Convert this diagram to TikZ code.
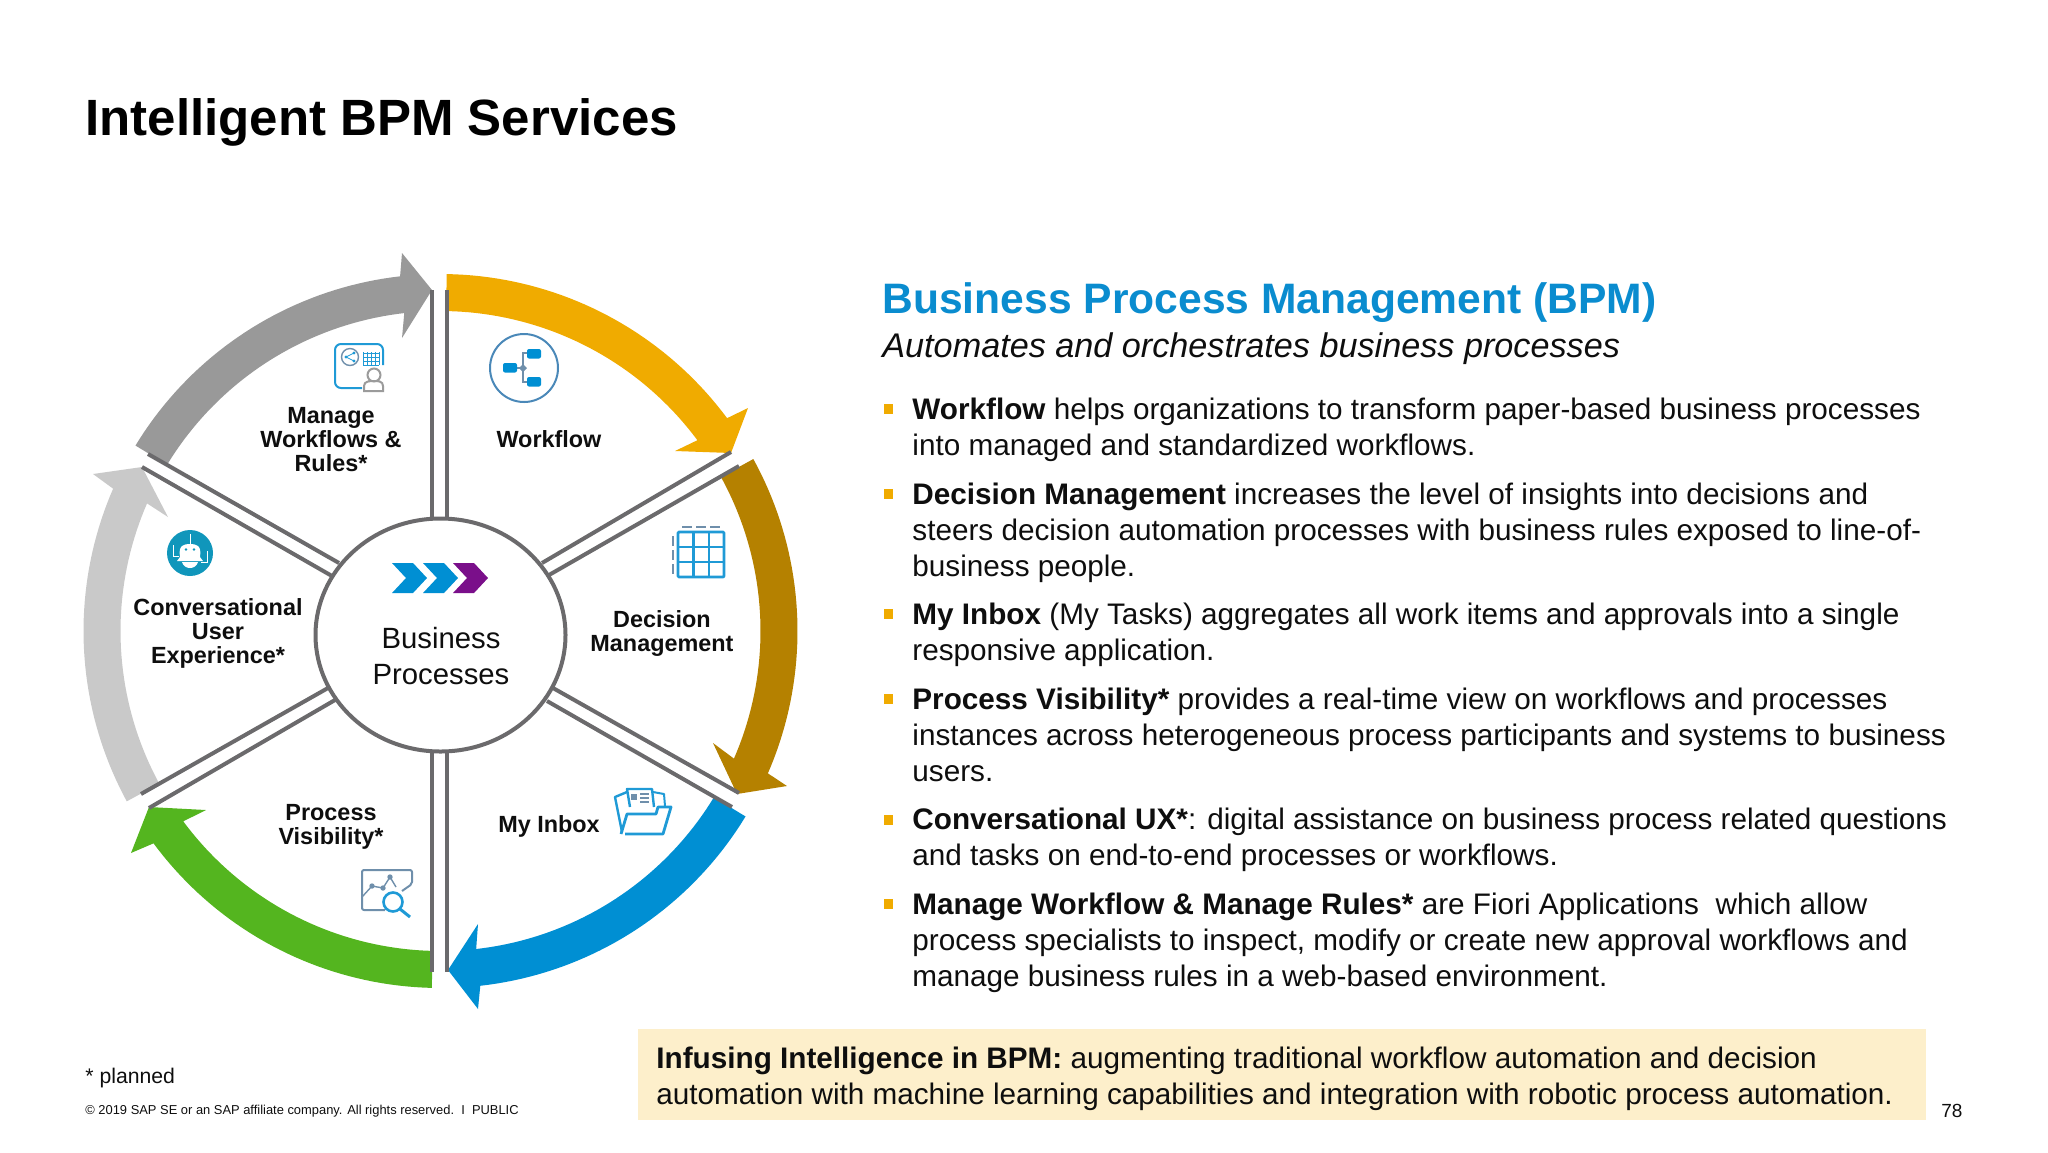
\documentclass[tikz,border=0pt]{standalone}
\usepackage{fontspec}
\setmainfont{Liberation Sans}
\usetikzlibrary{shapes.geometric}
\definecolor{ink}{HTML}{0E0E0E}
\definecolor{sapblue}{HTML}{008FD3}
\definecolor{headblue}{HTML}{0A8CCF}
\definecolor{sapgold}{HTML}{F0AB00}
\definecolor{sapbrown}{HTML}{B58100}
\definecolor{sapgreen}{HTML}{54B51F}
\definecolor{lightg}{HTML}{C9C9C9}
\definecolor{darkg}{HTML}{999999}
\definecolor{hubg}{HTML}{6B6A6C}
\definecolor{purp}{HTML}{7A0F8A}
\definecolor{boxc}{HTML}{FDEFCB}
\definecolor{iconb}{HTML}{1F9AD6}
\definecolor{icons}{HTML}{6F8FAB}
\definecolor{icong}{HTML}{9B9B9B}
\definecolor{wfring}{HTML}{4A88B8}
\definecolor{robot}{HTML}{1096BB}
\newcommand{\bandarrow}[6]{%
  \fill[#1] plot[domain=#2:#3,samples=40] ({440.5+357*cos(\x)},{631+357*sin(\x)})
    -- #4 -- #5 -- #6
    -- plot[domain=#3:#2,samples=40] ({440.5+320*cos(\x)},{631+320*sin(\x)}) -- cycle;}
\newcommand{\para}[2]{\parbox[t]{#1pt}{\raggedright\hbadness=10000 #2}}
\tikzset{
  sep/.style={draw=hubg,line width=2pt},
  bodytext/.style={anchor=base west,inner sep=0pt,text=ink,font=\fontsize{14.85}{18}\selectfont},
  seglabel/.style={anchor=base,inner sep=0pt,text=ink,align=center,font=\fontsize{11.7}{12}\selectfont\bfseries},
  bul/.style={fill=sapgold,inner sep=0pt,minimum width=4.5pt,minimum height=5pt},
  ic/.style={draw=iconb,line width=1pt,line join=round},
  icg/.style={draw=icons,line width=1pt,line join=round},
}
\begin{document}
\begin{tikzpicture}[x=0.5pt,y=-0.5pt]
\useasboundingbox (0,0) rectangle (2048,1152);
% title
\node[anchor=base west,inner sep=0pt,text=black,font=\fontsize{25.5}{30}\selectfont\bfseries] (title) at (85,135) {Intelligent BPM Services};
% arrows
\bandarrow{sapgold}{-89}{-36.6}{(748,408)}{(731,453)}{(675,451)}
\bandarrow{sapbrown}{-28.8}{23.5}{(787,786)}{(737,794)}{(713,743)}
\bandarrow{sapblue}{31.3}{83.6}{(478,1009)}{(448,970)}{(478,924)}
\bandarrow{sapgreen}{91.4}{143.5}{(131,853)}{(149,807)}{(206,810)}
\bandarrow{lightg}{151.5}{203.5}{(93,474)}{(142,467)}{(168,517)}
\bandarrow{darkg}{211.3}{263.5}{(402,253)}{(432,290)}{(402,338)}
% spoke ends
\coordinate (nl) at (432,290); \coordinate (nlh) at (432,518);
\coordinate (nr) at (447,290); \coordinate (nrh) at (447,518);
\coordinate (sl) at (432,972); \coordinate (slh) at (432,751);
\coordinate (sr) at (447,972); \coordinate (srh) at (447,751);
\coordinate (ea) at (731,452); \coordinate (eah) at (542,563);
\coordinate (eb) at (739,466); \coordinate (ebh) at (549,575);
\coordinate (fa) at (739,793); \coordinate (fah) at (553,688);
\coordinate (fb) at (732,807); \coordinate (fbh) at (547,701);
\coordinate (ga) at (141,794); \coordinate (gah) at (328,688);
\coordinate (gb) at (149,808); \coordinate (gbh) at (335,700);
\coordinate (ha) at (148,454); \coordinate (hah) at (339,563);
\coordinate (hb) at (142,467); \coordinate (hbh) at (332,576);
\foreach \a/\b in {nl/nlh,nr/nrh,sl/slh,sr/srh,ea/eah,eb/ebh,fa/fah,fb/fbh,ga/gah,gb/gbh,ha/hah,hb/hbh}
  \draw[sep] (\a) -- (\b);
% hub
\node[ellipse,draw=hubg,line width=2pt,fill=white,inner sep=0pt,minimum width=125pt,minimum height=116.5pt] (hub) at (440.5,635) {};
\node[anchor=base,inner sep=0pt,text=ink,align=center,font=\fontsize{14.65}{18.3}\selectfont] (hubtext) at (441,648) {\parbox[t]{120pt}{\centering Business\\ Processes}};
% chevrons
\foreach \s/\c in {392/sapblue,423/sapblue,453/purp}
  \fill[\c] (\s,563) -- ({\s+21},563) -- ({\s+35},578) -- ({\s+21},593) -- (\s,593) -- ({\s+14},578) -- cycle;
% segment labels
\node[seglabel] (lmanage) at (331,423) {\parbox[t]{80pt}{\centering Manage\\ Workflows \&\\ Rules*}};
\node[seglabel] (lwork) at (549,447) {Workflow};
\node[seglabel] (ldec) at (662,627) {\parbox[t]{80pt}{\centering Decision\\ Management}};
\node[seglabel] (linbox) at (549,832) {My Inbox};
\node[seglabel] (lproc) at (331,820) {\parbox[t]{80pt}{\centering Process\\ Visibility*}};
\node[seglabel] (lconv) at (218,615) {\parbox[t]{90pt}{\centering Conversational\\ User\\ Experience*}};
% icon: manage
\draw[ic] (383,365) -- (383,350) arc[start angle=0,end angle=-90,radius=6] -- (341,344) arc[start angle=-90,end angle=-180,radius=6] -- (335,382) arc[start angle=180,end angle=90,radius=6] -- (362,388);
\draw[icg,line width=.7pt] (350,357) circle[radius=8.5];
\fill[iconb] (346,357) circle[radius=1.6] (354,353) circle[radius=1.6] (354,361) circle[radius=1.6];
\draw[iconb,line width=.4pt] (354,353) -- (346,357) -- (354,361);
\foreach \g in {363,367,371,375,379} \draw[iconb,line width=.5pt] (\g,352) -- (\g,365);
\foreach \g in {353,357,361,365} \draw[iconb,line width=.5pt] (363,\g) -- (379,\g);
\draw[draw=icong,line width=1pt,fill=white] (374,375) circle[radius=6.5] (364,391) -- (364,386) .. controls (364,381) and (370,381) .. (374,381) .. controls (378,381) and (383,381) .. (383,386) -- (383,391) -- cycle;
% icon: workflow
\draw[draw=wfring,line width=1pt] (524,368) circle[radius=34];
\draw[draw=icons,line width=.6pt] (517,368) -- (523,368) (533,353) -- (523,353) -- (523,382) -- (533,382);
\fill[icons] (523,364) -- (527,368) -- (523,372) -- (519,368) -- cycle;
\foreach \xa/\ya in {503/363,527/349,527/377}
  \fill[sapblue,rounded corners=1] (\xa,\ya) rectangle ({\xa+14},{\ya+9.5});
% icon: decision
\draw[ic,line width=1.4pt,rounded corners=.5] (678,532) rectangle (724,577);
\draw[ic,line width=1.2pt] (693.3,532) -- (693.3,577) (708.7,532) -- (708.7,577) (678,547) -- (724,547) (678,562) -- (724,562);
\draw[icons,line width=1.3pt] (682,527) -- (692,527) (696,527) -- (706,527) (710,527) -- (720,527) (673,536) -- (673,546) (673,550) -- (673,560) (673,564) -- (673,574);
% icon: inbox
\draw[ic,line width=1.4pt] (625,834) -- (663,834) -- (671,807) -- (658,807) -- (656,814) -- (627,814) -- (621,834);
\draw[ic,line width=1.2pt] (622,832) -- (615,797) -- (627,792);
\draw[ic,line width=1.2pt] (630,807) -- (627,789) -- (652,789) -- (654,807);
\draw[ic,line width=1pt] (653,792) -- (664,794) -- (665,806);
\fill[icons] (631,794) rectangle (637,800);
\draw[icons,line width=.9pt] (640,794) -- (649,794) (640,798) -- (649,798) (640,802) -- (649,802);
% icon: process
\draw[icg,rounded corners=1] (385,910) -- (362,910) -- (362,870) -- (412,870) -- (412,884) -- (402,891);
\draw[icg,line width=.7pt] (362,897) -- (372,886) -- (383,888) -- (390,877) -- (396,887);
\fill[icons] (372,886) circle[radius=2.7] (383,888) circle[radius=2.7] (390,877) circle[radius=2.7];
\draw[ic,line width=1.3pt] (393,902) circle[radius=9.5];
\draw[ic,line width=1.5pt] (400,909) -- (410,917);
% icon: robot
\fill[robot] (190,553) circle[radius=23];
\draw[white,line width=.4pt] (190,534) -- (190,546) (173,545) -- (173,556) -- (179,556) (207,551) -- (207,562) -- (201,562);
\fill[white] (180,557) .. controls (178,545) and (184,544) .. (190,544) .. controls (196,544) and (202,545) .. (200,557) -- (203,561) -- (177,561) -- cycle;
\fill[white] (182,562) .. controls (184,570) and (196,570) .. (198,562) -- cycle;
\fill[robot] (186,549.5) circle[radius=1.4] (194,549.5) circle[radius=1.4];
% right column
\node[anchor=base west,inner sep=0pt,text=headblue,font=\fontsize{21.3}{26}\selectfont\bfseries] (head) at (882,313) {Business Process Management (BPM)};
\node[anchor=base west,inner sep=0pt,text=ink,font=\fontsize{17.1}{20}\selectfont\itshape] (sub) at (882,357) {Automates and orchestrates business processes};
\foreach \n/\yb in {b1/409,b2/494,b3/614,b4/699,b5/820,b6/904}
  \node[bul] (\n) at (888.5,\yb) {};
\node[bodytext] (t1) at (912,419) {\para{560}{\textbf{Workflow} helps organizations to transform paper-based business processes\\ into managed and standardized workflows.}};
\node[bodytext] (t2) at (912,504) {\para{560}{\textbf{Decision Management} increases the level of insights into decisions and\\ steers decision automation processes with business rules exposed to line-of-\\ business people.}};
\node[bodytext] (t3) at (912,624) {\para{560}{\textbf{My Inbox} (My Tasks) aggregates all work items and approvals into a single\\ responsive application.}};
\node[bodytext] (t4) at (912,709) {\para{560}{\textbf{Process Visibility*} provides a real-time view on workflows and processes\\ instances across heterogeneous process participants and systems to business\\ users.}};
\node[bodytext] (t5) at (912,829) {\para{560}{\textbf{Conversational UX*}: digital assistance on business process related questions\\ and tasks on end-to-end processes or workflows.}};
\node[bodytext] (t6) at (912,914) {\para{560}{\textbf{Manage Workflow \& Manage Rules*} are Fiori Applications\ \ which allow\\ process specialists to inspect, modify or create new approval workflows and\\ manage business rules in a web-based environment.}};
% callout
\node[anchor=north west,fill=boxc,inner sep=0pt,minimum width=644pt,minimum height=45.5pt] (box) at (638,1029) {};
\node[bodytext] (boxt) at (656,1068) {\para{640}{\textbf{Infusing Intelligence in BPM:} augmenting traditional workflow automation and decision\\ automation with machine learning capabilities and integration with robotic process automation.}};
% footer
\node[anchor=base west,inner sep=0pt,text=ink,font=\fontsize{10.6}{13}\selectfont] (plan) at (85,1083) {* planned};
\node[anchor=base west,inner sep=0pt,text=ink,font=\fontsize{6.45}{8}\selectfont] (copy) at (85,1114) {© 2019 SAP SE or an SAP affiliate company. All rights reserved.\ \ I\ \ PUBLIC};
\node[anchor=base west,inner sep=0pt,text=ink,font=\fontsize{9.5}{11}\selectfont] (pg) at (1941,1117) {78};
\end{tikzpicture}
\end{document}
